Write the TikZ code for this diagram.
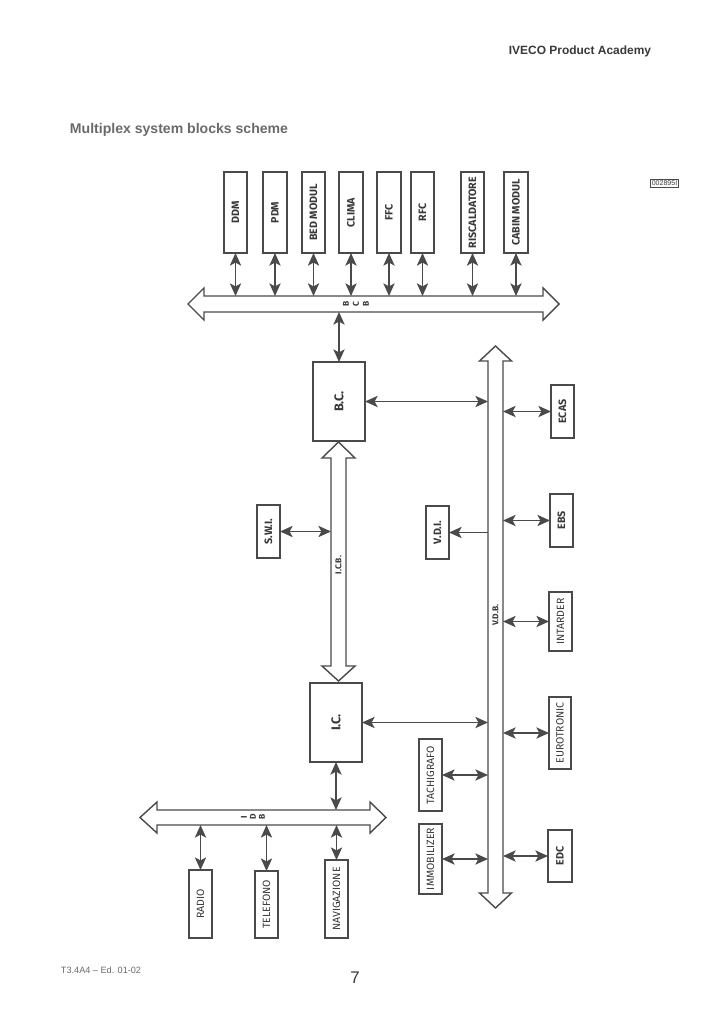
\documentclass[tikz,border=0pt]{standalone}
\usepackage{fontspec}
\setmainfont{Liberation Sans}
\newfontfamily\lab{Fira Sans}
\usetikzlibrary{arrows.meta}
\definecolor{ink}{HTML}{4A4A4A}
\definecolor{txt}{HTML}{383838}
\definecolor{ttl}{HTML}{6A6A6A}
\newcommand\boxnode[7][box]{\node[#1, minimum width={(#5-#3)*0.025cm}, minimum height={(#6-#4)*0.025cm}] (#2) at ({(#3+#5)/2},{(#4+#6)/2}) {\rotatebox{90}{#7}};}
\begin{document}
\begin{tikzpicture}[x=0.025cm,y=-0.025cm,
  box/.style={draw=ink, line width=1pt, inner sep=0pt, outer sep=0pt, text=txt, font=\lab\bfseries\fontsize{7.6}{8}\selectfont},
  lbox/.style={box, font=\lab\fontsize{7.5}{9}\selectfont},
  bigbox/.style={box, font=\lab\bfseries\fontsize{9}{10}\selectfont},
  conn/.style={draw=ink, line width=1pt, {Stealth[length=9pt,width=8pt,inset=2.2pt]}-{Stealth[length=9pt,width=8pt,inset=2.2pt]}},
  one/.style={draw=ink, line width=1pt, -{Stealth[length=9pt,width=8pt,inset=2.2pt]}},
  bus/.style={draw=ink, line width=1pt, fill=white, line join=miter},
  buslab/.style={text=txt, font=\lab\bfseries\fontsize{6}{6.5}\selectfont, inner sep=0pt, rotate=90},
]
\useasboundingbox (0,0) rectangle (722,1024);

% header / footer
\node[anchor=east, font=\bfseries\fontsize{8.5}{10}\selectfont, text=txt] (hdr) at (656,51) {IVECO Product Academy};
\node[anchor=west, font=\bfseries\fontsize{10}{12}\selectfont, text=ttl] (title) at (65,130) {Multiplex system blocks scheme};
\node[draw=ink, line width=0.4pt, font=\fontsize{5}{6}\selectfont, text=txt, inner sep=1pt] (code) at (664.5,183) {002895I};
\node[anchor=west, font=\fontsize{6.5}{8}\selectfont, text=ttl] (foot) at (56,970) {T3.4A4 – Ed. 01-02};
\node[font=\fontsize{12}{14}\selectfont, text=txt] (page) at (355,978) {7};

% buses
\draw[bus] (188,304) -- (204,288) -- (204,296) -- (543,296) -- (543,288) -- (559,304) -- (543,320) -- (543,312) -- (204,312) -- (204,320) -- cycle;
\draw[bus] (495.5,346) -- (511.5,361) -- (503,361) -- (503,893) -- (511.5,893) -- (495.5,908) -- (479.5,893) -- (488,893) -- (488,361) -- (479.5,361) -- cycle;
\draw[bus] (338.5,442) -- (355,458) -- (346,458) -- (346,666) -- (355,666) -- (338.5,681) -- (322,666) -- (331,666) -- (331,458) -- (322,458) -- cycle;
\draw[bus] (140,817.5) -- (157,802) -- (157,810) -- (370,810) -- (370,802) -- (386,817.5) -- (370,833) -- (370,825) -- (157,825) -- (157,833) -- cycle;

\coordinate (bcbT) at (0,296);
\coordinate (bcbB) at (0,312);
\coordinate (vdbL) at (488,0);
\coordinate (vdbR) at (503,0);
\coordinate (icbL) at (331,0);
\coordinate (idbT) at (0,810);
\coordinate (idbB) at (0,825);

\node[buslab] (bcb1) at (346,304) {B};
\node[buslab] (bcb2) at (356,304) {C};
\node[buslab] (bcb3) at (366,304) {B};
\node[buslab] (idb1) at (244,817) {I};
\node[buslab] (idb2) at (253,817) {D};
\node[buslab] (idb3) at (262,817) {B};
\node[buslab] (icblab) at (338.5,565) {I.C.B.};
\node[buslab] (vdblab) at (495.5,615) {V.D.B.};

% top boxes
\boxnode{ddm}{224}{172}{247}{253}{DDM}
\boxnode{pdm}{263}{172}{287}{253}{PDM}
\boxnode{bed}{302}{172}{325}{253}{BED MODUL}
\boxnode{clima}{339}{172}{363}{253}{CLIMA}
\boxnode{ffc}{377}{172}{401}{253}{FFC}
\boxnode{rfc}{411}{172}{434}{253}{RFC}
\boxnode{risc}{461}{172}{484}{253}{RISCALDATORE}
\boxnode{cabin}{504}{172}{528}{253}{CABIN MODUL}

% central boxes
\boxnode[bigbox]{bc}{313}{362}{365}{441}{B.C.}
\boxnode[bigbox]{ic}{310}{683}{362}{762}{I.C.}
\boxnode{swi}{257}{505}{280}{558}{S.W.I.}
\boxnode{vdi}{426}{506}{449}{559}{V.D.I.}

% right boxes
\boxnode{ecas}{551}{385}{574}{438}{ECAS}
\boxnode{ebs}{550}{494}{573}{547}{EBS}
\boxnode[lbox]{intarder}{549}{592}{572}{651}{INTARDER}
\boxnode[lbox]{euro}{549}{697}{571}{769}{EUROTRONIC}
\boxnode{edc}{548}{830}{572}{882}{EDC}
\boxnode[lbox]{tachi}{419}{739}{442}{811}{TACHIGRAFO}
\boxnode[lbox]{immo}{419}{824}{442}{894}{IMMOBILIZER}

% bottom boxes
\boxnode[lbox]{radio}{189}{870}{212}{938}{RADIO}
\boxnode[lbox]{tel}{255}{871}{278}{938}{TELEFONO}
\boxnode[lbox]{nav}{325}{860}{348}{938}{NAVIGAZIONE}

% connectors
\foreach \n in {ddm,pdm,bed,clima,ffc,rfc,risc,cabin}
  \draw[conn] (\n.south) -- (\n.south |- bcbT);
\draw[conn] (bc.north |- bcbB) -- (bc.north);
\draw[conn] (bc.east) -- (bc.east -| vdbL);
\draw[conn] (ic.east) -- (ic.east -| vdbL);
\draw[conn] (ic.south) -- (ic.south |- idbT);
\draw[conn] (swi.east) -- (swi.east -| icbL);
\draw[one] (vdi.east -| vdbL) -- (vdi.east);
\foreach \n in {ecas,ebs,intarder,euro,edc}
  \draw[conn] (\n.west -| vdbR) -- (\n.west);
\foreach \n in {tachi,immo}
  \draw[conn] (\n.east) -- (\n.east -| vdbL);
\foreach \n in {radio,tel,nav}
  \draw[conn] (\n.north |- idbB) -- (\n.north);
\end{tikzpicture}
\end{document}
